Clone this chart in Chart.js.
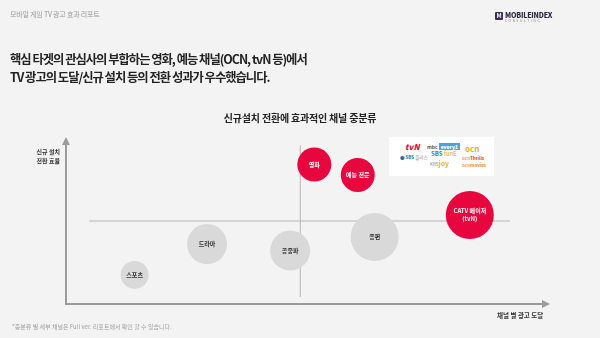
<!DOCTYPE html>
<html>
<head>
<meta charset="utf-8">
<script src="https://cdn.jsdelivr.net/npm/chart.js@4"></script>
<style>
  html, body { margin: 0; padding: 0; }
  body {
    width: 600px; height: 338px; position: relative; overflow: hidden;
    background: #f3f3f3;
    font-family: "Noto Sans CJK KR", "Noto Sans", sans-serif;
  }
  #chart { position: absolute; left: 0; top: 0; }
  .t { position: absolute; white-space: nowrap; }
  .header { left: 10px; top: 9px; font-size: 7px; color: #9a9a9a; letter-spacing: -0.2px; }
  .headline { left: 10px; top: 50px; font-size: 12.3px; font-weight: 700; color: #222; line-height: 18px; letter-spacing: -1px; }
  .ctitle { left: 0; width: 600px; text-align: center; top: 110px; font-size: 10px; font-weight: 700; color: #222; letter-spacing: -0.2px; }
  .ylab { right: 540px; top: 147px; font-size: 6px; font-weight: 700; color: #333; text-align: right; line-height: 9px; }
  .xlab { left: 497px; top: 310px; font-size: 6.5px; font-weight: 700; color: #333; }
  .note { left: 12px; top: 322px; font-size: 6px; color: #a0a0a0; }
  .logo { left: 495px; top: 10px; }
  .logo .sq { position: absolute; left: 0; top: 2px; width: 8px; height: 8px; background: #3b2d5a; border-radius: 1px; color: #fff; font-size: 6px; font-weight: 700; line-height: 8px; text-align: center; }
  .logo .nm { position: absolute; left: 10px; top: 0; font-size: 7px; font-weight: 800; color: #2d2740; letter-spacing: -0.2px; }
  .logo .sub { position: absolute; left: 10px; top: 9px; font-size: 3px; color: #777; letter-spacing: 1.8px; }
  .box { position: absolute; left: 389px; top: 137px; width: 105px; height: 39px; background: #fff; }
  .box span { position: absolute; white-space: nowrap; line-height: 1; }
</style>
</head>
<body>
<canvas id="chart" width="600" height="338"></canvas>

<div class="t header">모바일 게임 TV 광고 효과 리포트</div>
<div class="t logo"><div class="sq">M</div><div class="nm">MOBILEINDEX</div><div class="sub">CONSULTING</div></div>
<div class="t headline">핵심 타겟의 관심사의 부합하는 영화, 예능 채널(OCN, tvN 등)에서<br>TV 광고의 도달/신규 설치 등의 전환 성과가 우수했습니다.</div>
<div class="t ctitle">신규설치 전환에 효과적인 채널 중분류</div>
<div class="t ylab">신규 설치<br>전환 효율</div>
<div class="t xlab">채널 별 광고 도달</div>
<div class="t note">*중분류 별 세부 채널은 Full ver. 리포트에서 확인 할 수 있습니다.</div>

<div class="box">
  <span style="left:16px;top:6px;font-size:8px;font-weight:800;font-style:italic;color:#e8083e;">tvN</span>
  <span style="left:38px;top:7px;font-size:5px;font-weight:700;color:#555;">mbc<b style="background:#4aa3d8;color:#fff;padding:0 2px;margin-left:1px;">every1</b></span>
  <span style="left:11px;top:18px;font-size:4.5px;font-weight:700;color:#1c6fb4;">● SBS <span style="position:static;color:#888;font-weight:400;">플러스</span></span>
  <span style="left:42px;top:14px;font-size:6px;font-weight:700;color:#2a80c8;">SBS <span style="position:static;color:#e9a425;font-weight:400;">funE</span></span>
  <span style="left:41px;top:23px;font-size:4.5px;color:#888;">KBS<span style="position:static;font-size:7px;color:#f0b52a;font-weight:700;">joy</span></span>
  <span style="left:76px;top:8px;font-size:8px;font-weight:700;color:#f0a830;">ocn</span>
  <span style="left:73px;top:19px;font-size:4.5px;font-weight:700;color:#f0a830;">ocn<span style="position:static;color:#d43a2a;">Thrills</span></span>
  <span style="left:73px;top:26px;font-size:4.5px;font-weight:700;color:#f0a830;">ocn<span style="position:static;color:#e58a20;">movies</span></span>
</div>

<script>
// channel sub-categories (x: 광고 도달, y: 신규 설치 전환 효율, r: bubble size)
const labels = ["영화", "예능 전문", "CATV 메이저\n(tvN)", "드라마", "스포츠", "공중파", "종편"];
const reach = [51.2, 60.2, 83.4, 29.0, 14.0, 46.2, 63.7];
const conversion = [83.5, 77.2, 53.3, 35.9, 17.4, 32.0, 40.1];
const size = [17, 17, 24, 20, 14, 20, 24];
const highlight = [true, true, true, false, false, false, false];

// quadrant divider lines
const refX = 48.3;
const refY = 49.7;

const RED = "#e8063f";
const GRAY = "#d9d9d9";

const points = labels.map((l, i) => ({ x: reach[i], y: conversion[i], r: size[i] }));

const axesPlugin = {
  id: "axes",
  beforeDatasetsDraw(chart) {
    const { ctx, chartArea: a, scales: { x, y } } = chart;
    ctx.save();
    // quadrant lines
    ctx.strokeStyle = "#b5b5b5";
    ctx.lineWidth = 1;
    ctx.beginPath();
    ctx.moveTo(x.getPixelForValue(4.6), y.getPixelForValue(refY));
    ctx.lineTo(x.getPixelForValue(91.7), y.getPixelForValue(refY));
    ctx.moveTo(x.getPixelForValue(refX), y.getPixelForValue(95));
    ctx.lineTo(x.getPixelForValue(refX), y.getPixelForValue(4.2));
    ctx.stroke();
    // main axes with arrow heads
    ctx.strokeStyle = "#9b9b9b";
    ctx.fillStyle = "#9b9b9b";
    ctx.lineWidth = 2;
    ctx.beginPath();
    ctx.moveTo(a.left - 1, a.top + 6);
    ctx.lineTo(a.left - 1, a.bottom);
    ctx.lineTo(a.right - 6, a.bottom);
    ctx.stroke();
    ctx.beginPath();
    ctx.moveTo(a.left - 1, a.top);
    ctx.lineTo(a.left - 5, a.top + 8);
    ctx.lineTo(a.left + 3, a.top + 8);
    ctx.closePath();
    ctx.fill();
    ctx.beginPath();
    ctx.moveTo(a.right, a.bottom);
    ctx.lineTo(a.right - 8, a.bottom - 4);
    ctx.lineTo(a.right - 8, a.bottom + 4);
    ctx.closePath();
    ctx.fill();
    ctx.restore();
  }
};

const labelPlugin = {
  id: "bubbleLabels",
  afterDatasetsDraw(chart) {
    const { ctx } = chart;
    const meta = chart.getDatasetMeta(0);
    ctx.save();
    ctx.textAlign = "center";
    ctx.textBaseline = "middle";
    ctx.font = "700 6px 'Noto Sans CJK KR'";
    meta.data.forEach((el, i) => {
      ctx.fillStyle = highlight[i] ? "#ffffff" : "#333333";
      const lines = labels[i].split("\n");
      lines.forEach((ln, k) => {
        ctx.fillText(ln, el.x, el.y + (k - (lines.length - 1) / 2) * 8);
      });
    });
    ctx.restore();
  }
};

new Chart(document.getElementById("chart"), {
  type: "bubble",
  data: {
    datasets: [{
      data: points,
      backgroundColor: highlight.map(h => h ? RED : GRAY),
      borderWidth: 0,
      hoverBorderWidth: 0
    }]
  },
  options: {
    responsive: false,
    animation: false,
    layout: { padding: { left: 67, right: 50, top: 137, bottom: 34 } },
    scales: {
      x: { type: "linear", min: 0, max: 100, display: false },
      y: { type: "linear", min: 0, max: 100, display: false }
    },
    plugins: {
      legend: { display: false },
      tooltip: { enabled: false }
    }
  },
  plugins: [axesPlugin, labelPlugin]
});
</script>
</body>
</html>
